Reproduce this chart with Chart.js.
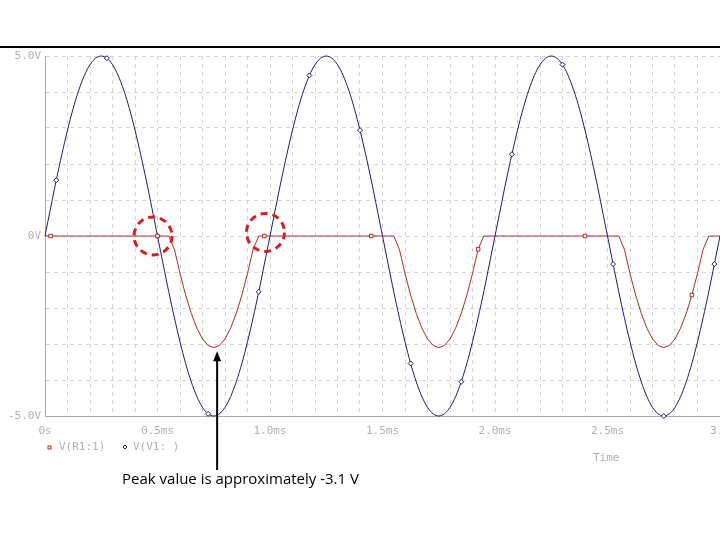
<!DOCTYPE html>
<html><head><meta charset="utf-8">
<script src="https://cdn.jsdelivr.net/npm/chart.js@4"></script>
<style>html,body{margin:0;padding:0;background:#fff}#w{width:720px;height:540px;position:relative}</style>
</head><body><div id="w"><canvas id="c"></canvas></div>
<script>
const timeMs = [0,0.025,0.05,0.075,0.1,0.125,0.15,0.175,0.2,0.225,0.25,0.275,0.3,0.325,0.35,0.375,0.4,0.425,0.45,0.475,
0.5,0.525,0.55,0.575,0.6,0.625,0.65,0.675,0.7,0.725,0.75,0.775,0.8,0.825,0.85,0.875,0.9,0.925,0.95,0.975,
1,1.025,1.05,1.075,1.1,1.125,1.15,1.175,1.2,1.225,1.25,1.275,1.3,1.325,1.35,1.375,1.4,1.425,1.45,1.475,
1.5,1.525,1.55,1.575,1.6,1.625,1.65,1.675,1.7,1.725,1.75,1.775,1.8,1.825,1.85,1.875,1.9,1.925,1.95,1.975,
2,2.025,2.05,2.075,2.1,2.125,2.15,2.175,2.2,2.225,2.25,2.275,2.3,2.325,2.35,2.375,2.4,2.425,2.45,2.475,
2.5,2.525,2.55,2.575,2.6,2.625,2.65,2.675,2.7,2.725,2.75,2.775,2.8,2.825,2.85,2.875,2.9,2.925,2.95,2.975,3];
const vV1 = [0,0.78,1.55,2.27,2.94,3.54,4.05,4.46,4.76,4.94,5,4.94,4.76,4.46,4.05,3.54,2.94,2.27,1.55,0.78,
0,-0.78,-1.55,-2.27,-2.94,-3.54,-4.05,-4.46,-4.76,-4.94,-5,-4.94,-4.76,-4.46,-4.05,-3.54,-2.94,-2.27,-1.55,-0.78,
0,0.78,1.55,2.27,2.94,3.54,4.05,4.46,4.76,4.94,5,4.94,4.76,4.46,4.05,3.54,2.94,2.27,1.55,0.78,
0,-0.78,-1.55,-2.27,-2.94,-3.54,-4.05,-4.46,-4.76,-4.94,-5,-4.94,-4.76,-4.46,-4.05,-3.54,-2.94,-2.27,-1.55,-0.78,
0,0.78,1.55,2.27,2.94,3.54,4.05,4.46,4.76,4.94,5,4.94,4.76,4.46,4.05,3.54,2.94,2.27,1.55,0.78,
0,-0.78,-1.55,-2.27,-2.94,-3.54,-4.05,-4.46,-4.76,-4.94,-5,-4.94,-4.76,-4.46,-4.05,-3.54,-2.94,-2.27,-1.55,-0.78,0];
const vR1 = [0,0,0,0,0,0,0,0,0,0,0,0,0,0,0,0,0,0,0,0,
0,0,0,-0.37,-1.04,-1.64,-2.15,-2.56,-2.86,-3.04,-3.1,-3.04,-2.86,-2.56,-2.15,-1.64,-1.04,-0.37,0,0,
0,0,0,0,0,0,0,0,0,0,0,0,0,0,0,0,0,0,0,0,
0,0,0,-0.37,-1.04,-1.64,-2.15,-2.56,-2.86,-3.04,-3.1,-3.04,-2.86,-2.56,-2.15,-1.64,-1.04,-0.37,0,0,
0,0,0,0,0,0,0,0,0,0,0,0,0,0,0,0,0,0,0,0,
0,0,0,-0.37,-1.04,-1.64,-2.15,-2.56,-2.86,-3.04,-3.1,-3.04,-2.86,-2.56,-2.15,-1.64,-1.04,-0.37,0,0,0];
const xTickLabels = {0:'0s',0.5:'0.5ms',1:'1.0ms',1.5:'1.5ms',2:'2.0ms',2.5:'2.5ms',3:'3.0'};
const yTickLabels = {5:'5.0V',0:'0V','-5':'-5.0V'};
const legendNames = ['V(R1:1)','V(V1: )'];
const noteText = 'Peak value is approximately -3.1 V';

const RED='#b02a2a', BLUE='#1c1c78', LBL='#b0b0b0';
const mono = '11px "DejaVu Sans Mono"';
const deco = {
  id:'deco',
  beforeDraw(ch){const c=ch.ctx;c.save();c.fillStyle='#fff';c.fillRect(0,0,720,540);
    c.strokeStyle='#000';c.lineWidth=2;c.beginPath();c.moveTo(0,47);c.lineTo(720,47);c.stroke();c.restore();},
  afterDraw(ch){
    const c=ch.ctx,x=ch.scales.x,y=ch.scales.y;c.save();
    c.font=mono;c.textBaseline='middle';
    c.strokeStyle=RED;c.lineWidth=1;c.strokeRect(48,446,3,3);
    c.fillStyle=LBL;c.fillText(legendNames[0],59,447);
    c.strokeStyle=BLUE;c.beginPath();c.moveTo(125,445);c.lineTo(127,447);c.lineTo(125,449);c.lineTo(123,447);c.closePath();c.stroke();
    c.fillText(legendNames[1],133,447);
    c.fillText('Time',593,458);
    c.strokeStyle='#d42020';c.lineWidth=3;c.setLineDash([7,5]);
    [[0.48,0],[0.98,0.1]].forEach(p=>{c.beginPath();c.arc(x.getPixelForValue(p[0]),y.getPixelForValue(p[1]),19,0,Math.PI*2);c.stroke();});
    c.setLineDash([]);
    const ax=x.getPixelForValue(0.765), ay=y.getPixelForValue(-3.2);
    c.strokeStyle='#000';c.fillStyle='#000';c.lineWidth=2;
    c.beginPath();c.moveTo(ax,470);c.lineTo(ax,ay+8);c.stroke();
    c.beginPath();c.moveTo(ax,ay);c.lineTo(ax-4,ay+10);c.lineTo(ax+4,ay+10);c.closePath();c.fill();
    c.font='15px "Open Sans"';c.textBaseline='alphabetic';c.fillText(noteText,122,484);
    c.restore();
  }
};
const pr = (off,step)=>ctx=>((ctx.dataIndex-off)%step===0&&ctx.dataIndex>=off)?2.5:0;
new Chart(document.getElementById('c'),{
  type:'line',
  data:{datasets:[
    {label:legendNames[0],data:timeMs.map((t,i)=>({x:t,y:vR1[i]})),borderColor:RED,borderWidth:1,pointStyle:'rect',pointRadius:pr(1,19),pointBorderColor:RED,pointBackgroundColor:'#fff',pointBorderWidth:1,tension:0},
    {label:legendNames[1],data:timeMs.map((t,i)=>({x:t,y:vV1[i]})),borderColor:BLUE,borderWidth:1,pointStyle:'rectRot',pointRadius:pr(2,9),pointBorderColor:BLUE,pointBackgroundColor:'#fff',pointBorderWidth:1,tension:0.3}
  ]},
  options:{responsive:true,maintainAspectRatio:false,animation:false,clip:false,
    layout:{padding:{top:56,right:0,left:0,bottom:0}},
    plugins:{legend:{display:false},tooltip:{enabled:false}},
    scales:{
      x:{type:'linear',min:0,max:3,afterFit:s=>{s.height=124;s.paddingRight=0;s.paddingLeft=0;},
        ticks:{stepSize:0.1,autoSkip:false,maxRotation:0,color:LBL,font:{family:'DejaVu Sans Mono',size:11},padding:9,
          callback:v=>xTickLabels[Math.round(v*10)/10]??''},
        grid:{color:'#d4d4d4',drawTicks:false},border:{color:'#a8a8a8',dash:[4,4]}},
      y:{min:-5,max:5,afterFit:s=>{s.width=45;s.paddingTop=0;s.paddingBottom=0;},
        ticks:{stepSize:1,color:LBL,font:{family:'DejaVu Sans Mono',size:11},padding:4,
          callback:v=>yTickLabels[Math.round(v)]??''},
        grid:{color:'#d4d4d4',drawTicks:false},border:{color:'#a8a8a8',dash:[4,4]}}
    }
  },
  plugins:[deco]
});
</script></body></html>
